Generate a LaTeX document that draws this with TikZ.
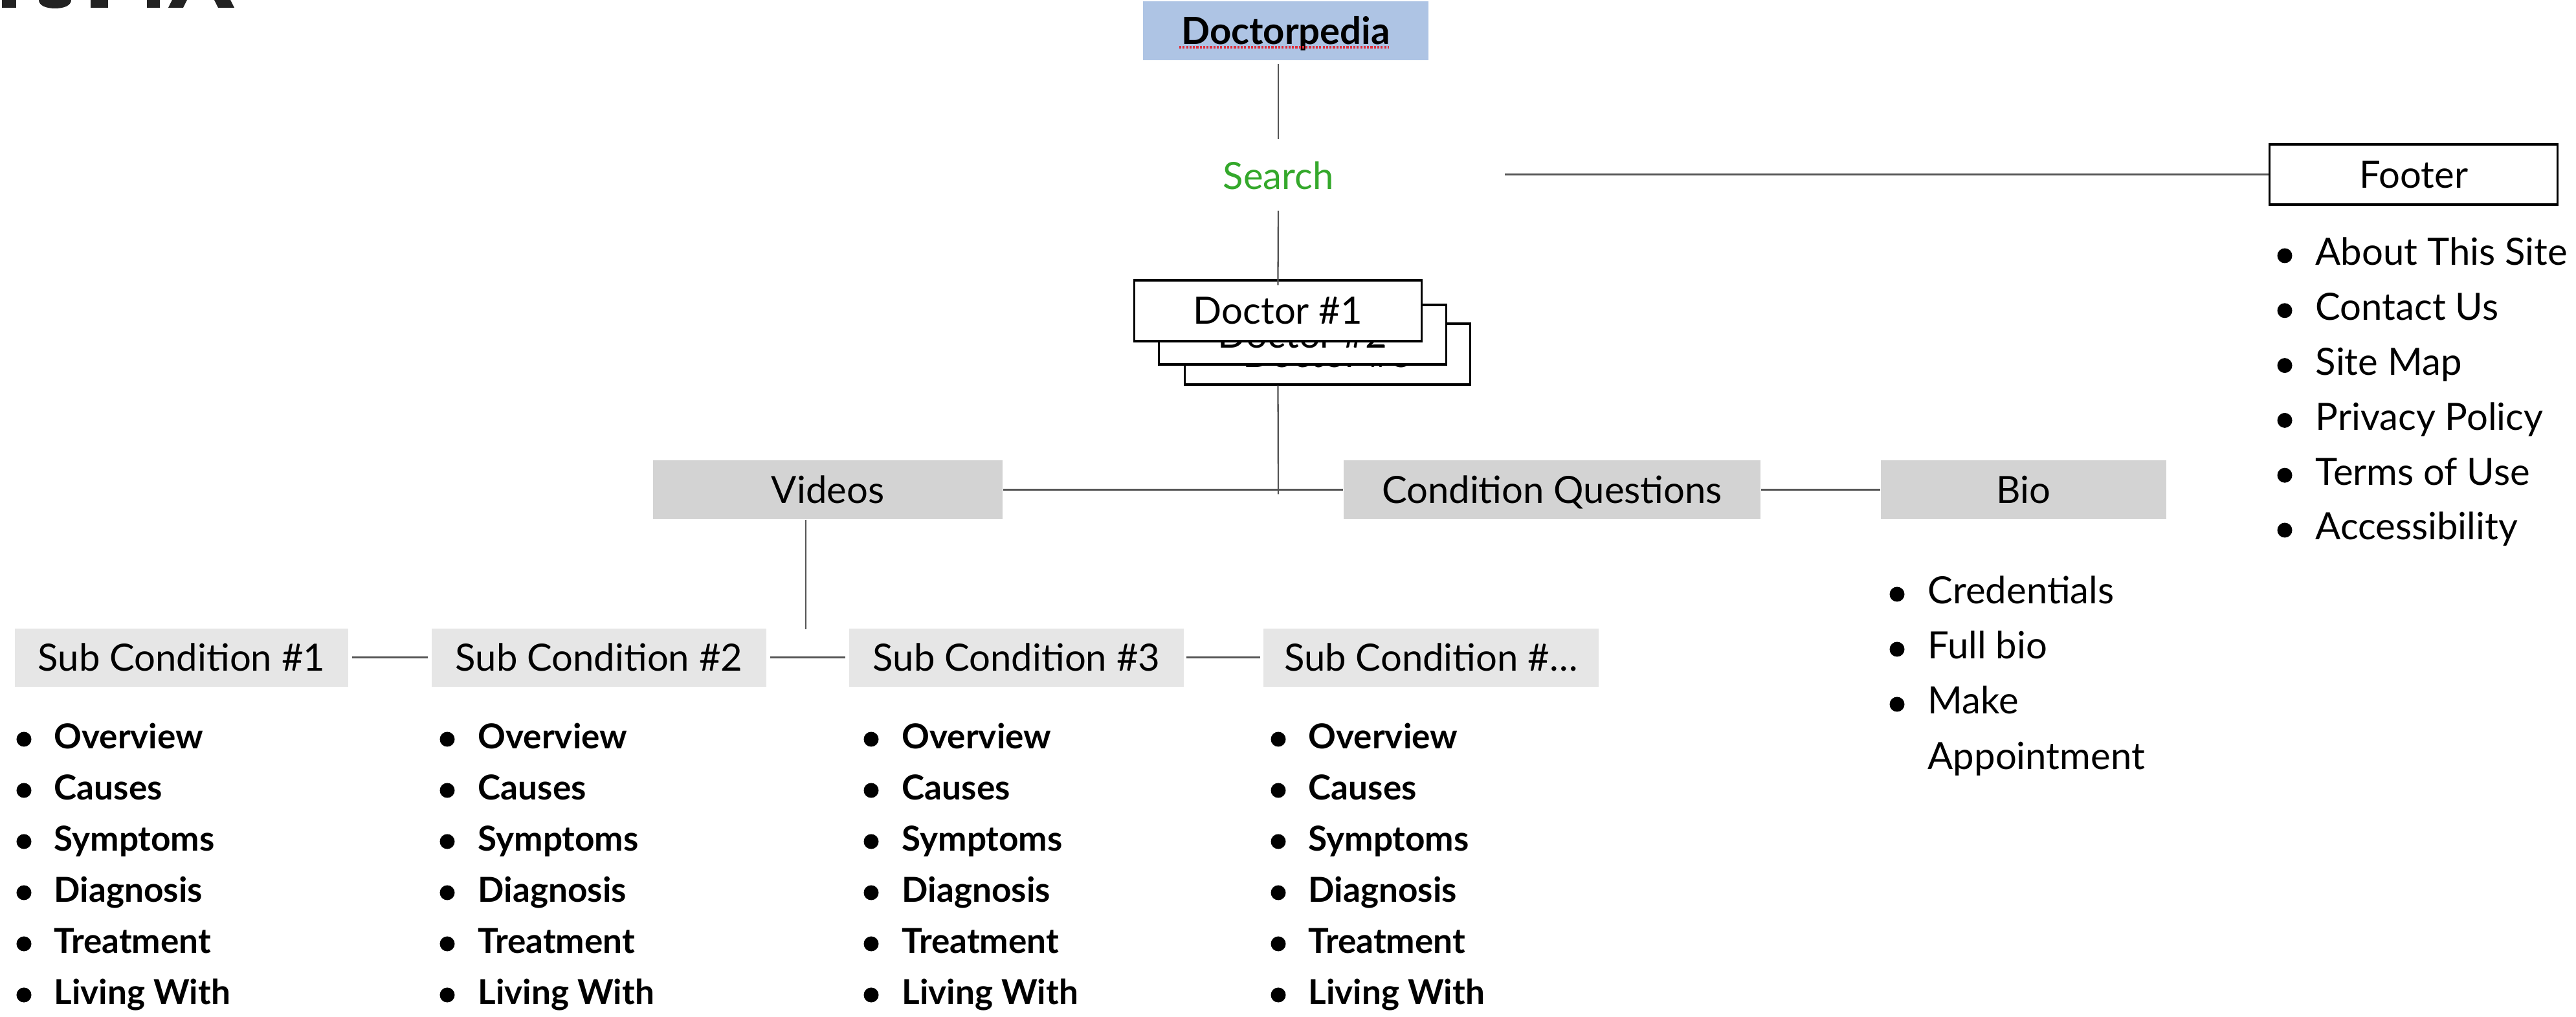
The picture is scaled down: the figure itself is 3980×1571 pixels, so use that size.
\documentclass[tikz,border=0pt]{standalone}
\usepackage{fontspec}
\setmainfont{Lato}
\newcommand{\lblfont}{\fontsize{16.5}{20}\selectfont}
\newcommand{\itemfont}{\fontsize{15.1}{18}\selectfont\bfseries}
\definecolor{dpblue}{RGB}{174,196,228}
\definecolor{boxgray}{RGB}{211,211,211}
\definecolor{subgray}{RGB}{230,230,230}
\definecolor{linegray}{RGB}{85,85,85}
\definecolor{searchgreen}{RGB}{52,168,43}
\definecolor{inkdark}{RGB}{34,34,34}
\definecolor{spellred}{RGB}{224,48,60}
\begin{document}
\begin{tikzpicture}[x=0.01cm, y=-0.01cm,
  lbl/.style={font=\lblfont, inner sep=0pt, text height=0.416cm, text depth=0cm, align=center},
  graybox/.style={lbl, fill=boxgray, minimum height=0.91cm},
  subbox/.style={lbl, fill=subgray, minimum height=0.90cm},
  outbox/.style={lbl, draw=black, line width=0.9pt, fill=white},
  hconn/.style={draw=linegray, line width=0.85pt},
  vconn/.style={draw=linegray, line width=0.65pt},
  itemtxt/.style={font=\itemfont, anchor=base west, inner sep=0pt},
  plaintxt/.style={font=\lblfont, anchor=base west, inner sep=0pt},
  dot/.style={fill=black, circle, inner sep=0pt, minimum size=0.23cm},
  spell/.style={draw=spellred, line width=0.9pt, dash pattern=on 0.9pt off 0.6pt}
]
\useasboundingbox (0,0) rectangle (3980,1571);

% lower edge of the large page heading, cut by the top border
\fill[inkdark] (3,0) rectangle (25,12);
\fill[inkdark] (60,0) .. controls (60,9) and (72,13) .. (85,13)
  .. controls (98,13) and (110,9) .. (110,0) -- cycle;
\fill[inkdark] (140,0) rectangle (167,12);
\fill[inkdark] (227,0) rectangle (247,12);
\fill[inkdark] (260,12) -- (283,12) -- (289,0) -- (266,0) -- cycle;
\fill[inkdark] (337,12) -- (362,12) -- (356,0) -- (331,0) -- cycle;

% top of the tree
\node[lbl, font=\lblfont\bfseries, fill=dpblue, minimum width=4.41cm, minimum height=0.91cm]
  (dp) at (1986.5,47.5) {Doctorpedia};
\draw[spell] (1822,73) -- (2146,73);

\node[lbl, text=searchgreen, fill=white, inner xsep=0.08cm, inner ysep=0.3cm]
  (search) at (1975,272) {Search};

% footer
\node[outbox, minimum width=4.44cm, minimum height=0.93cm] (footer) at (3729,269.5) {Footer};
\coordinate (footstart) at (2325,269.5);

% stacked doctor cards
\node[outbox, minimum width=4.40cm, minimum height=0.94cm] (doc3) at (2051,547) {Doctor \#3};
\node[outbox, minimum width=4.43cm, minimum height=0.92cm] (doc2) at (2012.5,517) {Doctor \#2};
\node[outbox, minimum width=4.43cm, minimum height=0.94cm] (doc1) at (1974.5,480) {Doctor \#1};

% second level
\node[graybox, minimum width=5.40cm] (videos) at (1279,756.5) {Videos};
\node[graybox, minimum width=6.44cm] (cq) at (2398,756.5) {Condition Questions};
\node[graybox, minimum width=4.41cm] (bio) at (3126.5,756.5) {Bio};
\coordinate (hub) at (1975,756.5);

% sub conditions
\node[subbox, minimum width=5.15cm] (s1) at (280.5,1016) {Sub Condition \#1};
\node[subbox, minimum width=5.17cm] (s2) at (925.5,1016) {Sub Condition \#2};
\node[subbox, minimum width=5.17cm] (s3) at (1570.5,1016) {Sub Condition \#3};
\node[subbox, minimum width=5.17cm] (s4) at (2211,1016) {Sub Condition \#…};
\coordinate (vend) at (1245,972);

% connectors
\draw[vconn, shorten <=0.05cm, shorten >=0.05cm] (dp.south -| search.north) -- (search.north);
\draw[vconn] (footstart) -- (footer.west);
\draw[vconn, shorten <=0.02cm, shorten >=-0.09cm] (search.south) -- (doc1.north);
\draw[vconn, shorten >=-0.07cm] (doc1.south |- doc3.south) -- (hub);
\draw[hconn] (videos.east) -- (cq.west);
\draw[hconn] (cq.east) -- (bio.west);
\draw[vconn] (videos.south -| vend) -- (vend);
\draw[hconn, shorten <=0.05cm, shorten >=0.05cm] (s1.east) -- (s2.west);
\draw[hconn, shorten <=0.05cm, shorten >=0.05cm] (s2.east) -- (s3.west);
\draw[hconn, shorten <=0.03cm, shorten >=0.05cm] (s3.east) -- (s4.west);

% footer links
\foreach \t [count=\k from 0] in {About This Site, Contact Us, Site Map, Privacy Policy, Terms of Use, Accessibility} {
  \node[plaintxt] (f\k) at (3577, 410+84.8*\k) {\t};
  \node[dot] (fb\k) at (3530, 395+84.8*\k) {};
}

% bio links
\node[plaintxt] (b0) at (2978,933) {Credentials};
\node[plaintxt] (b1) at (2978,1018) {Full bio};
\node[plaintxt] (b2) at (2978,1103) {Make};
\node[plaintxt] (b3) at (2978,1189) {Appointment};
\node[dot] (bb0) at (2931,918) {};
\node[dot] (bb1) at (2931,1003) {};
\node[dot] (bb2) at (2931,1088) {};

% sub-condition pages
\foreach \c/\tx/\bx in {1/83/37, 2/738/691, 3/1393/1346, 4/2021/1975} {
  \foreach \t [count=\k from 0] in {Overview, Causes, Symptoms, Diagnosis, Treatment, Living With} {
    \node[itemtxt] (s\c i\k) at (\tx, 1157+79*\k) {\t};
    \node[dot] (s\c b\k) at (\bx, 1142+79*\k) {};
  }
}
\end{tikzpicture}
\end{document}
